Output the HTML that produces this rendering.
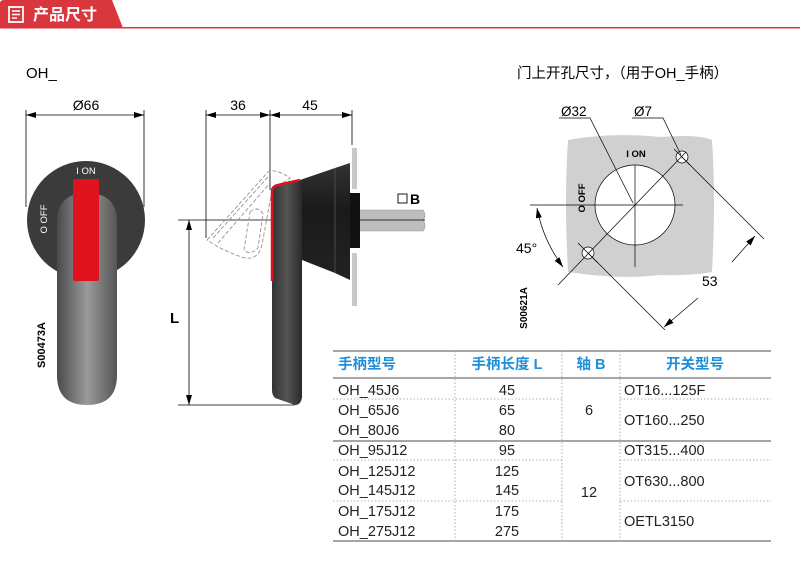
<!DOCTYPE html>
<html><head><meta charset="utf-8"><style>
body{margin:0;background:#fff;}
svg{display:block;font-family:"Liberation Sans","Noto Sans CJK SC",sans-serif;}
</style></head><body>
<svg width="800" height="565" viewBox="0 0 800 565" xmlns="http://www.w3.org/2000/svg">
<defs>
<linearGradient id="lev" x1="0" x2="1"><stop offset="0" stop-color="#4a4a4a"/><stop offset="0.5" stop-color="#9a9a9a"/><stop offset="1" stop-color="#555"/></linearGradient>
<linearGradient id="cone" x1="0" y1="0" x2="0" y2="1"><stop offset="0" stop-color="#333"/><stop offset="0.4" stop-color="#1a1a1a"/><stop offset="1" stop-color="#222"/></linearGradient>
<linearGradient id="lev2" x1="0" x2="1"><stop offset="0" stop-color="#333"/><stop offset="0.5" stop-color="#555"/><stop offset="1" stop-color="#2a2a2a"/></linearGradient>
<marker id="a" viewBox="0 0 10 6" refX="10" refY="3" markerWidth="10" markerHeight="6" orient="auto-start-reverse" markerUnits="userSpaceOnUse"><path d="M0,0L10,3L0,6z" fill="#000"/></marker>
</defs>
<!-- header -->
<path d="M0,3 Q0,0 4,0 L112,0 L123,28 L0,28z" fill="#d9363e"/>
<rect x="0" y="27" width="800" height="1.5" fill="#d9363e"/>
<rect x="9" y="7" width="14" height="15" fill="none" stroke="#fff" stroke-width="1.8"/>
<path d="M12,11h8M12,14.5h8M12,18h5" stroke="#fff" stroke-width="1.6"/>
<text x="33" y="20" fill="#fff" font-size="16" font-weight="bold">产品尺寸</text>
<text x="26" y="78" font-size="15">OH_</text>
<text x="517" y="78" font-size="14.5">门上开孔尺寸，（用于OH_手柄）</text>

<!-- left front view -->
<g stroke="#000" stroke-width="0.8">
<line x1="26" y1="110" x2="26" y2="207"/><line x1="144" y1="110" x2="144" y2="207"/>
<line x1="26" y1="115" x2="144" y2="115" marker-start="url(#a)" marker-end="url(#a)"/>
</g>
<text x="86" y="110" font-size="14" text-anchor="middle">Ø66</text>
<circle cx="86" cy="220" r="59" fill="#3b3b3b"/>
<path d="M57,222 Q57,193 87,193 Q117,193 117,222 L117,375 Q117,405 87,405 Q57,405 57,375z" fill="url(#lev)"/>
<rect x="73" y="179" width="26" height="102" rx="2" fill="#e0121e"/>
<text x="86" y="174" font-size="9.5" fill="#fff" text-anchor="middle">I ON</text>
<text transform="translate(47,219) rotate(-90)" font-size="9.5" fill="#fff" text-anchor="middle">O OFF</text>
<text transform="translate(45,345) rotate(-90)" font-size="11" font-weight="bold" text-anchor="middle">S00473A</text>

<!-- side view -->
<g stroke="#000" stroke-width="0.8">
<line x1="206" y1="110" x2="206" y2="238"/><line x1="270" y1="110" x2="270" y2="190"/><line x1="352" y1="110" x2="352" y2="145"/>
<line x1="206" y1="115" x2="270" y2="115" marker-start="url(#a)" marker-end="url(#a)"/>
<line x1="270" y1="115" x2="352" y2="115" marker-start="url(#a)" marker-end="url(#a)"/>
<line x1="178" y1="220" x2="425" y2="220"/>
<line x1="178" y1="405" x2="295" y2="405"/>
<line x1="189" y1="220" x2="189" y2="405" marker-start="url(#a)" marker-end="url(#a)"/>
</g>
<text x="238" y="110" font-size="14" text-anchor="middle">36</text>
<text x="310" y="110" font-size="14" text-anchor="middle">45</text>
<text x="170" y="323" font-size="15" font-weight="bold">L</text>
<!-- dashed ghost -->
<g fill="none" stroke="#888" stroke-width="0.8" stroke-dasharray="4,2">
<path d="M207,240 L268,172 Q275,168 290,178 L272,190 L262,245 Q258,260 245,258 Q225,252 207,240z"/>
<path d="M213,238 L268,177 M218,243 L270,183"/>
<path d="M250,212 Q258,205 263,214 L258,248 Q250,256 244,250z"/>
</g>
<!-- plate -->
<rect x="352" y="148" width="5" height="41" fill="#c8c8c8"/>
<rect x="352" y="253" width="5" height="53" fill="#c8c8c8"/>
<!-- shaft -->
<path d="M357,210 L423,210 Q427,216 423,220 Q427,226 423,231 L357,231z" fill="#bdbdbd" stroke="#999" stroke-width="0.6"/>
<line x1="357" y1="220" x2="425" y2="220" stroke="#000" stroke-width="0.8"/>
<rect x="349" y="193" width="11" height="55" fill="#111"/>
<!-- cone -->
<path d="M272,188 L300,180 L335,168 L350,163 L350,280 L335,273 L302,260 L272,255z" fill="url(#cone)"/>
<line x1="335" y1="168" x2="335" y2="273" stroke="#555" stroke-width="0.8"/>
<!-- lever -->
<path d="M272,188 L302,180 L302,397 Q301,405 295,405 L275,398 Q272,395 272,390z" fill="url(#lev2)"/>
<path d="M272,281 L272,190 Q273,186 278,185 L300,180" fill="none" stroke="#e0121e" stroke-width="2.5"/>
<rect x="398" y="194" width="9" height="9" fill="none" stroke="#000" stroke-width="0.9"/>
<text x="410" y="204" font-size="14" font-weight="bold">B</text>

<!-- hole pattern -->
<path d="M568,140 Q610,132 660,137 Q700,134 712,140 Q716,200 712,272 Q690,276 660,275 Q620,280 568,272 Q564,200 568,140z" fill="#d0d0d0"/>
<circle cx="635" cy="205" r="40" fill="#fff" stroke="#000" stroke-width="0.7"/>
<circle cx="682" cy="157" r="6" fill="#fff" stroke="#000" stroke-width="0.7"/>
<circle cx="588" cy="253" r="6" fill="#fff" stroke="#000" stroke-width="0.7"/>
<g stroke="#000" stroke-width="0.7" fill="none">
<line x1="530" y1="205" x2="683" y2="205"/>
<line x1="635" y1="165" x2="635" y2="267"/>
<line x1="558" y1="285" x2="686" y2="152"/>
<line x1="578" y1="243" x2="598" y2="263"/>
<line x1="674" y1="149" x2="690" y2="165"/>
<polyline points="559,118 590,118 633,203"/>
<polyline points="632,118 663,118 681,155"/>
<line x1="682" y1="157" x2="764" y2="239"/>
<line x1="588" y1="253" x2="665" y2="330"/>
<line x1="732" y1="262" x2="755" y2="236" marker-end="url(#a)"/>
<line x1="698" y1="298" x2="664" y2="327" marker-end="url(#a)"/>
<path d="M537,208 Q543,240 563,267" marker-start="url(#a)" marker-end="url(#a)"/>
</g>
<text x="561" y="116" font-size="13.5">Ø32</text>
<text x="634" y="116" font-size="13.5">Ø7</text>
<text x="636" y="157" font-size="9.5" font-weight="bold" text-anchor="middle">I ON</text>
<text transform="translate(585,198) rotate(-90)" font-size="9.5" font-weight="bold" text-anchor="middle">O OFF</text>
<text x="516" y="253" font-size="14">45°</text>
<text x="702" y="286" font-size="14">53</text>
<text transform="translate(527,308) rotate(-90)" font-size="10" font-weight="bold" text-anchor="middle">S00621A</text>

<!-- table -->
<g stroke="#888" stroke-width="1">
<line x1="333" y1="351" x2="771" y2="351" stroke-width="1.5"/>
<line x1="333" y1="378" x2="771" y2="378" stroke-width="1.5"/>
<line x1="333" y1="441" x2="771" y2="441" stroke-width="1.5"/>
<line x1="333" y1="541" x2="771" y2="541" stroke-width="1.5"/>
</g>
<g stroke="#999" stroke-width="0.8" stroke-dasharray="1.5,2">
<line x1="333" y1="399" x2="562" y2="399"/><line x1="620" y1="399" x2="771" y2="399"/>
<line x1="333" y1="460" x2="562" y2="460"/><line x1="620" y1="460" x2="771" y2="460"/>
<line x1="333" y1="501" x2="562" y2="501"/><line x1="620" y1="501" x2="771" y2="501"/>
<line x1="455" y1="351" x2="455" y2="541"/><line x1="562" y1="351" x2="562" y2="541"/><line x1="620" y1="351" x2="620" y2="541"/>
</g>
<g font-size="14.5" font-weight="bold" fill="#1d8fd8">
<text x="338" y="369">手柄型号</text>
<text x="507" y="369" text-anchor="middle">手柄长度 L</text>
<text x="591" y="369" text-anchor="middle">轴 B</text>
<text x="695" y="369" text-anchor="middle">开关型号</text>
</g>
<g font-size="14.5" fill="#222">
<text x="338" y="395">OH_45J6</text><text x="507" y="395" text-anchor="middle">45</text>
<text x="338" y="415">OH_65J6</text><text x="507" y="415" text-anchor="middle">65</text>
<text x="338" y="435">OH_80J6</text><text x="507" y="435" text-anchor="middle">80</text>
<text x="338" y="455">OH_95J12</text><text x="507" y="455" text-anchor="middle">95</text>
<text x="338" y="476">OH_125J12</text><text x="507" y="476" text-anchor="middle">125</text>
<text x="338" y="495">OH_145J12</text><text x="507" y="495" text-anchor="middle">145</text>
<text x="338" y="516">OH_175J12</text><text x="507" y="516" text-anchor="middle">175</text>
<text x="338" y="536">OH_275J12</text><text x="507" y="536" text-anchor="middle">275</text>
<text x="589" y="415" text-anchor="middle">6</text>
<text x="589" y="497" text-anchor="middle">12</text>
<text x="624" y="395">OT16...125F</text>
<text x="624" y="425">OT160...250</text>
<text x="624" y="455">OT315...400</text>
<text x="624" y="486">OT630...800</text>
<text x="624" y="526">OETL3150</text>
</g>
</svg>
</body></html>
